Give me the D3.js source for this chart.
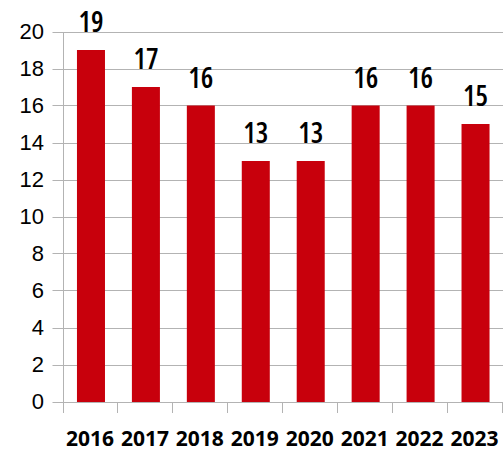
<!DOCTYPE html>
<html>
<head>
<meta charset="utf-8">
<script src="https://cdn.jsdelivr.net/npm/d3@7"></script>
<style>
  html, body { margin: 0; padding: 0; background: #fff; }
  svg { display: block; }
</style>
</head>
<body>
<svg id="chart" width="503" height="451"></svg>
<script>
const categories = ["2016", "2017", "2018", "2019", "2020", "2021", "2022", "2023"];
const values = [19, 17, 16, 13, 13, 16, 16, 15];
const yTicks = [0, 2, 4, 6, 8, 10, 12, 14, 16, 18, 20];

const svg = d3.select("#chart");
const margin = { left: 63.5, right: 0, top: 31.5, bottom: 49 };
const W = 503, H = 451;

const x = d3.scaleBand().domain(categories)
  .range([margin.left, W - margin.right]).paddingInner(0.49).paddingOuter(0.245);
const xTickScale = d3.scaleLinear().domain([0, categories.length]).range([margin.left, W - margin.right]);
const y = d3.scaleLinear().domain([0, 20]).range([H - margin.bottom - 0.5, margin.top]);

const gridColor = "#b3b3b3";

// gridlines
svg.append("g").selectAll("line").data(yTicks).join("line")
  .attr("x1", margin.left - 11).attr("x2", W)
  .attr("y1", d => Math.round(y(d)) + 0.5).attr("y2", d => Math.round(y(d)) + 0.5)
  .attr("stroke", gridColor).attr("stroke-width", 1);

// vertical axis line
svg.append("line")
  .attr("x1", margin.left).attr("x2", margin.left)
  .attr("y1", Math.round(y(20)) + 0.5).attr("y2", Math.round(y(0)) + 11)
  .attr("stroke", gridColor);

// bottom tick marks
svg.append("g").selectAll("line").data(d3.range(categories.length + 1)).join("line")
  .attr("x1", d => Math.round(xTickScale(d)) - 0.5).attr("x2", d => Math.round(xTickScale(d)) - 0.5)
  .attr("y1", Math.round(y(0))).attr("y2", Math.round(y(0)) + 11)
  .attr("stroke", gridColor);

// bars
svg.append("g").selectAll("rect").data(values).join("rect")
  .attr("x", (d, i) => x(categories[i]))
  .attr("width", x.bandwidth())
  .attr("y", d => y(d))
  .attr("height", d => y(0) - y(d) + 0.5)
  .attr("fill", "#c8000c");

// data labels
svg.append("g").selectAll("text").data(values).join("text")
  .attr("x", (d, i) => x(categories[i]) + x.bandwidth() / 2)
  .attr("y", d => y(d) - 18)
  .attr("text-anchor", "middle")
  .attr("font-family", "'Open Sans', sans-serif")
  .attr("font-weight", 600)
  .attr("font-size", 28)
  .style("font-stretch", "87.5%")
  .attr("fill", "#000")
  .text(d => d);

// y labels
svg.append("g").selectAll("text").data(yTicks).join("text")
  .attr("x", 44)
  .attr("y", d => y(d))
  .attr("dy", "0.36em")
  .attr("text-anchor", "end")
  .attr("font-family", "'Liberation Sans', Arial, sans-serif")
  .attr("font-size", 22)
  .attr("fill", "#000")
  .text(d => d);

// x labels
svg.append("g").selectAll("text").data(categories).join("text")
  .attr("x", d => x(d) + x.bandwidth() / 2 - 1)
  .attr("y", 446)
  .attr("text-anchor", "middle")
  .attr("font-family", "'Open Sans', sans-serif")
  .attr("font-weight", 700)
  .attr("font-size", 21)
  .style("font-stretch", "93%")
  .attr("fill", "#000")
  .text(d => d);
</script>
</body>
</html>
